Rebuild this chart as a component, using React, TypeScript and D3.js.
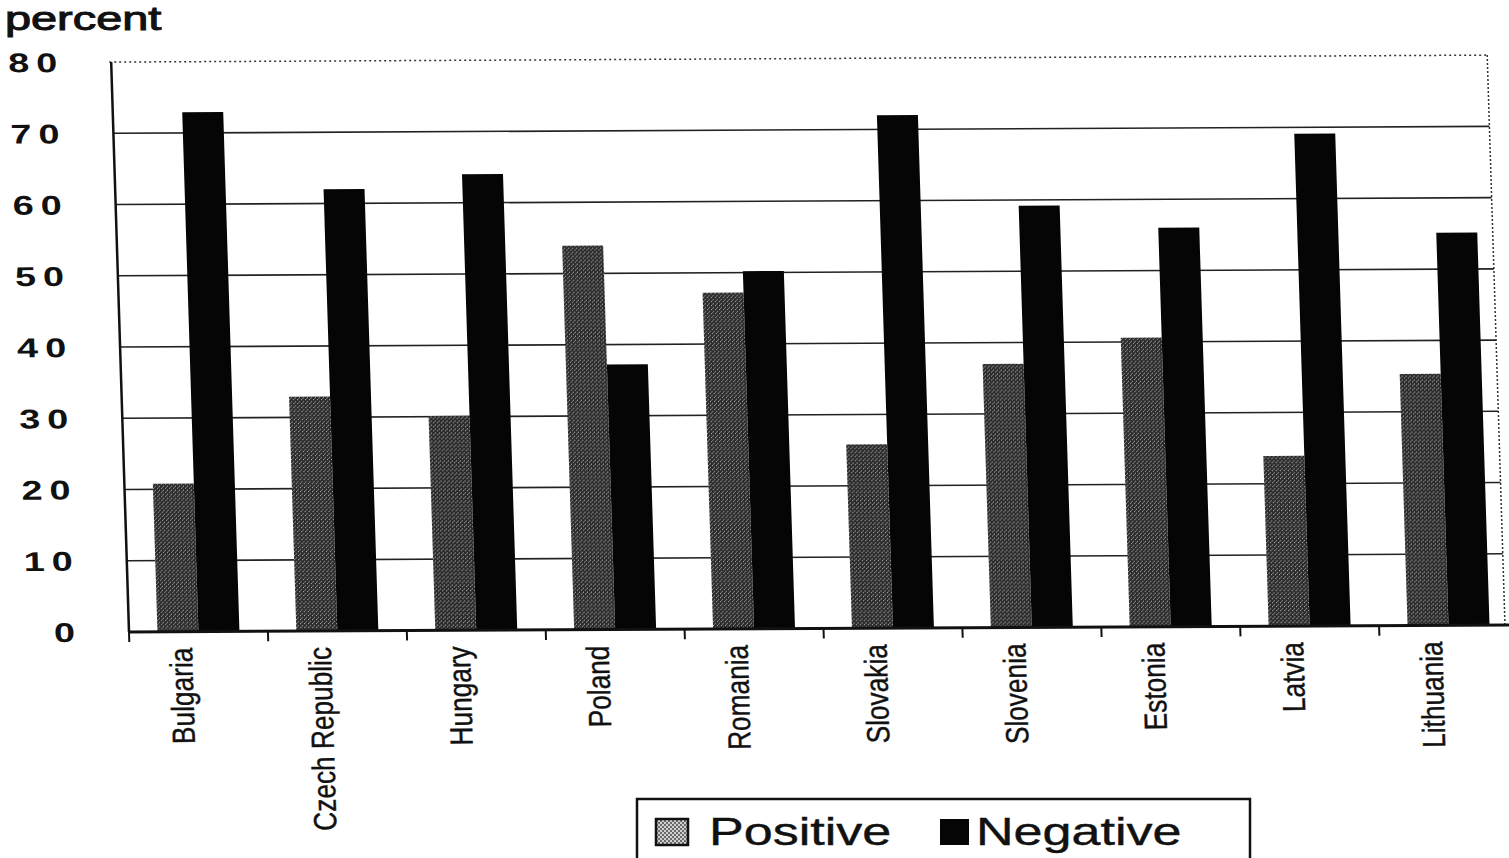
import React from 'react';
import { scaleBand, scaleLinear } from 'd3';

const categories = ['Bulgaria', 'Czech Republic', 'Hungary', 'Poland', 'Romania', 'Slovakia', 'Slovenia', 'Estonia', 'Latvia', 'Lithuania'];
const positiveValues = [20.8, 32.9, 30.1, 53.9, 47.2, 25.8, 37.0, 40.6, 23.9, 35.3];
const negativeValues = [72.9, 62.0, 64.0, 37.2, 50.2, 72.0, 59.2, 56.0, 69.1, 55.1];
const seriesNames = ['Positive', 'Negative'];
const yTicks = [0, 10, 20, 30, 40, 50, 60, 70, 80];
const yLabel = 'percent';

const App: React.FC = () => {
    const width = 1509;
    const height = 858;
    const left = 129;
    const right = 1518;
    const top = 62;
    const bottom = 632;
    const font = "'Liberation Sans', Arial, sans-serif";

    const x0 = scaleBand<string>()
        .domain(categories)
        .range([left, right])
        .paddingInner(0.41)
        .paddingOuter(0.205);

    const x1 = scaleBand<string>()
        .domain(seriesNames)
        .range([0, x0.bandwidth()]);

    const y = scaleLinear().domain([0, 80]).range([bottom, top]);

    const step = x0.step();
    const tickXs = categories.map((_, i) => left + i * step).concat([left + categories.length * step]);

    const rows = categories.map((c, i) => ({ c, vals: [positiveValues[i], negativeValues[i]] }));

    return (
        <svg width={width} height={height} style={{ position: 'absolute', left: 0, top: 0, background: '#fff' }}>
            <defs>
                <pattern id="stipple" patternUnits="userSpaceOnUse" width={4} height={4}>
                    <rect width={4} height={4} fill="#2a2a2a" />
                    <rect x={0} y={0} width={1} height={1} fill="#b5b5b5" />
                    <rect x={2} y={2} width={1} height={1} fill="#b5b5b5" />
                    <rect x={1} y={3} width={1} height={1} fill="#7a7a7a" />
                </pattern>
                <pattern id="legendStipple" patternUnits="userSpaceOnUse" width={4} height={4}>
                    <rect width={4} height={4} fill="#d0d0d0" />
                    <rect x={0} y={0} width={2} height={2} fill="#6a6a6a" />
                    <rect x={2} y={2} width={2} height={2} fill="#6a6a6a" />
                </pattern>
            </defs>

            <text transform="translate(5,30) scale(1.42,1)" fontFamily={font} fontSize={33} fill="#111" stroke="#111" strokeWidth={1}>
                {yLabel}
            </text>

            <g transform={`rotate(-0.29 ${left} ${bottom})`}>
                <g transform={`translate(0 ${bottom}) skewX(1.5) translate(0 ${-bottom})`}>
                    {/* gridlines */}
                    {yTicks.filter(t => t > 0 && t < 80).map(t => (
                        <line key={t} x1={left} x2={1505} y1={y(t)} y2={y(t)} stroke="#222" strokeWidth={1.6} />
                    ))}
                    {/* frame: dotted top and right */}
                    <line x1={left - 2} x2={1505} y1={y(80)} y2={y(80)} stroke="#333" strokeWidth={1.5} strokeDasharray="2 3" />
                    <line x1={1505} x2={1505} y1={y(80)} y2={bottom} stroke="#333" strokeWidth={1.5} strokeDasharray="2 2" />

                    {/* y tick labels */}
                    {yTicks.map(t => (
                        <text key={t} transform={`translate(82,${y(t)}) scale(1.4,1)`} dy="0.36em" textAnchor="end"
                            fontFamily={font} fontWeight="bold" fontSize={27} letterSpacing={5} fill="#111">
                            {t}
                        </text>
                    ))}

                    {/* bars */}
                    {rows.map(r => (
                        <g key={r.c} transform={`translate(${x0(r.c)},0)`}>
                            {r.vals.map((v, j) => (
                                <rect key={j}
                                    x={x1(seriesNames[j])}
                                    y={y(v)}
                                    width={x1.bandwidth()}
                                    height={bottom - y(v)}
                                    fill={j === 0 ? 'url(#stipple)' : '#050505'} />
                            ))}
                        </g>
                    ))}

                    {/* axes */}
                    <line x1={left} x2={left} y1={y(80)} y2={bottom} stroke="#111" strokeWidth={2.5} />
                    <line x1={left} x2={right} y1={bottom} y2={bottom} stroke="#111" strokeWidth={3} />
                    {tickXs.map((tx, i) => (
                        <line key={i} x1={tx} x2={tx} y1={bottom} y2={bottom + 10} stroke="#111" strokeWidth={2} />
                    ))}

                    {/* category labels */}
                    {categories.map(c => {
                        const cx = (x0(c) as number) + x0.bandwidth() / 2;
                        return (
                            <text key={c} transform={`translate(${cx - 7},${bottom + 16}) rotate(-90) scale(0.82,1)`}
                                textAnchor="end" fontFamily={font} fontSize={32} fill="#111" stroke="#111" strokeWidth={0.4}>
                                {c}
                            </text>
                        );
                    })}
                </g>
            </g>

            {/* legend */}
            <g>
                <rect x={637} y={799} width={613} height={75} fill="#fff" stroke="#111" strokeWidth={2.5} />
                <rect x={656} y={819} width={32} height={26} fill="url(#legendStipple)" stroke="#111" strokeWidth={2.5} />
                <text transform="translate(709,845) scale(1.37,1)" fontFamily={font} fontSize={38} fill="#111" stroke="#111" strokeWidth={0.4}>
                    {seriesNames[0]}
                </text>
                <rect x={940} y={819} width={29} height={26} fill="#050505" />
                <text transform="translate(976,845) scale(1.37,1)" fontFamily={font} fontSize={38} fill="#111" stroke="#111" strokeWidth={0.4}>
                    {seriesNames[1]}
                </text>
            </g>
        </svg>
    );
};

export default App;
